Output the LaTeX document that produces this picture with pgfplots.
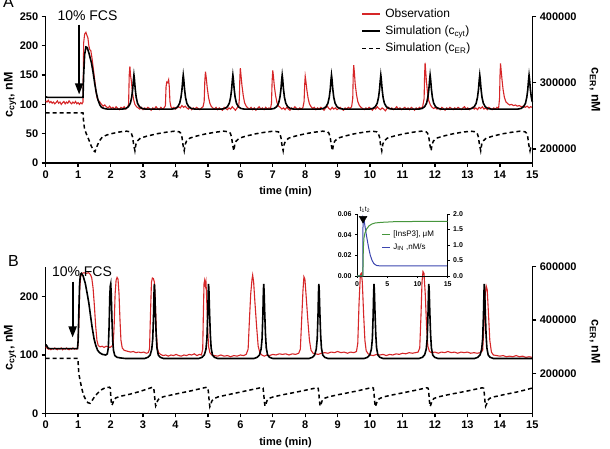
\documentclass[border=0pt]{standalone}
\usepackage{pgfplots}
\pgfplotsset{compat=1.18}
\usepackage{fontspec}
\setmainfont{Liberation Sans}
\usetikzlibrary{arrows.meta}

\definecolor{obsred}{RGB}{214,38,40}
\definecolor{ipgreen}{RGB}{70,150,60}
\definecolor{jblue}{RGB}{60,70,175}

\pgfplotsset{
  panel/.style={
    scale only axis, width=486.6pt, xmin=0, xmax=15,
    anchor=south west, scaled y ticks=false, scaled x ticks=false,
    axis line style={line width=1.5pt},
    every tick/.style={line width=1.3pt, black},
    tick align=outside, major tick length=4pt,
    tick label style={font=\fontsize{11}{11}\selectfont\bfseries},
    /pgf/number format/assume math mode=true,
    xlabel style={font=\fontsize{11}{11}\selectfont\bfseries},
    ylabel style={font=\fontsize{12.5}{12.5}\selectfont\bfseries},
    clip=false,
  },
  leftpanel/.style={panel,
    axis x line*=bottom, axis y line*=left,
    xtick={0,1,...,15},
    xlabel={time (min)},
    xlabel style={at={(axis description cs:0.493,-0.198)}, anchor=center},
    ylabel={c\textsubscript{cyt}, nM},
  },
  rightpanel/.style={panel,
    axis x line=none, axis y line*=right,
    ylabel={c\textsubscript{ER}, nM},
  },
  inset/.style={
    scale only axis, width=90.7pt, height=62pt, xmin=0, xmax=15,
    anchor=south west, scaled y ticks=false, scaled x ticks=false,
    axis line style={line width=0.9pt},
    every tick/.style={line width=0.8pt, black},
    tick align=outside, major tick length=2pt,
    tick label style={font=\fontsize{7}{7}\selectfont\bfseries},
    /pgf/number format/assume math mode=true,
    clip=false,
  },
  obs/.style={obsred, line width=1.1pt},
  sim/.style={black, line width=1.6pt},
  simer/.style={black, line width=1.5pt, dash pattern=on 4pt off 3pt},
}

\begin{document}
\begin{tikzpicture}
\useasboundingbox (0pt,0pt) rectangle (610pt,449pt);

% ---------------- Panel A ----------------
\begin{axis}[leftpanel, at={(45.7pt,286pt)}, height=146.5pt,
  ymin=0, ymax=250, ytick={0,50,...,250},
  ylabel style={at={(axis description cs:-0.073,0.464)}, anchor=center}]
\addplot[obs] coordinates {
(0,106)(0.04,104)(0.08,107)(0.12,103)(0.16,105)(0.2,102)(0.24,104)(0.28,101)(0.32,103)(0.36,106)(0.4,102)(0.44,104)(0.48,100)(0.52,103)(0.56,105)(0.6,101)(0.64,104)(0.68,102)(0.72,106)(0.76,103)(0.8,101)(0.84,104)(0.88,102)(0.92,105)(0.96,101)(1.0,103)(1.04,100)(1.08,103)(1.12,101)(1.15,104)
(1.17,205)(1.2,220)(1.24,223)(1.27,218)(1.3,214)(1.33,200)(1.36,193)(1.39,192)(1.43,178)(1.47,160)(1.51,142)(1.55,122)(1.58,112)(1.62,107)(1.67,104)(1.72,100)(1.77,97)(1.82,99)(1.87,96)(1.92,94)(1.97,97)(2.02,93)(2.07,95)(2.12,92)(2.17,96)(2.22,93)(2.27,91)(2.32,95)(2.37,93)(2.42,96)(2.47,92)(2.52,95)
(2.555,100)(2.575,150)(2.595,165)(2.615,150)(2.64,140)(2.67,122)(2.71,108)(2.75,100)(2.8,96)(2.85,94)(2.9,92)(2.95,95)(3.0,91)(3.05,94)(3.1,92)(3.15,95)(3.2,93)(3.25,90)(3.3,94)(3.35,92)(3.4,96)(3.45,93)(3.5,91)(3.55,95)(3.6,92)(3.65,94)
(3.69,98)(3.71,130)(3.73,138)(3.76,137)(3.79,142)(3.81,130)(3.83,105)(3.86,96)(3.9,93)(3.95,95)(4.0,92)(4.05,94)(4.1,96)(4.15,94)(4.2,98)(4.25,95)(4.3,97)(4.35,94)(4.4,92)(4.45,95)(4.5,91)(4.55,94)(4.6,92)(4.65,95)(4.7,93)(4.75,91)(4.8,94)(4.85,96)
(4.885,105)(4.905,140)(4.925,156)(4.95,145)(4.98,128)(5.02,112)(5.06,102)(5.1,97)(5.15,94)(5.2,92)(5.25,95)(5.3,91)(5.35,94)(5.4,92)(5.45,90)(5.5,95)(5.55,93)(5.6,91)(5.65,94)(5.7,92)(5.75,96)(5.8,93)(5.85,90)(5.9,94)(5.95,97)
(5.97,110)(5.985,145)(6.0,162)(6.02,150)(6.05,132)(6.09,115)(6.13,103)(6.18,97)(6.23,94)(6.28,92)(6.33,95)(6.38,91)(6.43,94)(6.48,90)(6.53,93)(6.58,96)(6.63,92)(6.68,94)(6.73,91)(6.78,95)(6.83,92)(6.88,94)(6.93,93)
(6.96,102)(6.98,140)(7.0,158)(7.02,148)(7.05,130)(7.09,114)(7.13,103)(7.18,97)(7.23,95)(7.28,92)(7.33,94)(7.38,91)(7.43,95)(7.48,92)(7.53,90)(7.58,94)(7.63,92)(7.68,96)(7.73,93)(7.78,91)(7.83,94)(7.88,92)(7.93,95)
(7.965,105)(7.985,135)(8.0,148)(8.02,140)(8.05,125)(8.09,110)(8.13,101)(8.18,96)(8.23,93)(8.28,95)(8.33,91)(8.38,94)(8.43,92)(8.48,95)(8.53,93)(8.58,90)(8.63,94)(8.68,97)(8.73,93)(8.78,91)(8.83,95)(8.88,92)(8.93,94)(8.98,91)(9.03,93)(9.08,95)(9.13,92)(9.18,90)(9.23,94)(9.28,92)(9.33,95)(9.38,93)(9.43,96)
(9.465,110)(9.48,150)(9.495,167)(9.515,155)(9.54,135)(9.58,117)(9.62,105)(9.67,98)(9.72,95)(9.77,93)(9.82,91)(9.87,94)(9.92,92)(9.97,95)(10.02,93)(10.07,90)(10.12,94)(10.17,92)(10.22,96)(10.27,93)(10.32,91)(10.37,94)(10.42,92)(10.47,89)(10.52,93)(10.57,95)(10.62,92)(10.67,94)(10.72,91)(10.77,93)(10.82,96)(10.87,92)(10.92,94)(10.97,91)(11.02,93)(11.07,95)(11.12,92)(11.17,94)(11.22,91)(11.27,95)(11.32,93)(11.37,90)(11.42,94)(11.47,92)(11.52,95)(11.57,93)(11.62,96)
(11.665,110)(11.68,150)(11.695,171)(11.71,160)(11.735,140)(11.77,120)(11.81,106)(11.86,99)(11.91,95)(11.96,93)(12.01,95)(12.06,92)(12.11,94)(12.16,91)(12.21,95)(12.26,93)(12.31,90)(12.36,94)(12.41,92)(12.46,95)(12.51,93)(12.56,91)(12.61,94)(12.66,92)(12.71,95)(12.76,93)(12.81,91)(12.86,94)(12.91,96)(12.96,92)(13.01,94)(13.06,91)(13.11,93)(13.16,95)(13.21,92)(13.26,94)(13.31,91)(13.36,95)(13.41,93)(13.46,96)(13.51,92)(13.56,94)(13.61,91)(13.66,95)(13.71,93)(13.76,91)(13.81,94)(13.86,92)(13.91,95)(13.96,93)
(13.99,110)(14.005,150)(14.02,170)(14.04,158)(14.07,140)(14.1,125)(14.14,112)(14.19,104)(14.25,101)(14.3,99)(14.36,100)(14.42,98)(14.48,99)(14.54,97)(14.6,98)(14.66,96)(14.72,97)(14.78,95)(14.84,97)(14.9,94)(14.95,96)(15.0,95)
};
\addplot[sim] coordinates {
(0,113)(0.05,112)(1.15,112)(1.17,150)(1.2,185)(1.24,198)(1.28,197)(1.33,188)(1.41,171)(1.46,155)(1.51,136)(1.56,120)(1.61,108)(1.67,99)(1.72,95)(1.8,93)(1.9,92)(2.37,92)
(2.47,93)(2.55,96)(2.61,102)(2.65,112)(2.68,125)(2.705,142)(2.72,150)(2.735,143)(2.76,126)(2.79,112)(2.83,102)(2.89,96)(2.97,93)(3.07,92)(3.89,92)
(3.99,93)(4.07,96)(4.13,102)(4.17,112)(4.20,125)(4.225,142)(4.24,150)(4.255,143)(4.28,126)(4.31,112)(4.35,102)(4.41,96)(4.49,93)(4.59,92)(5.42,92)
(5.52,93)(5.60,96)(5.66,102)(5.70,112)(5.73,125)(5.755,142)(5.77,150)(5.785,143)(5.81,126)(5.84,112)(5.88,102)(5.94,96)(6.02,93)(6.12,92)(6.94,92)
(7.04,93)(7.12,96)(7.18,102)(7.22,112)(7.25,125)(7.275,142)(7.29,150)(7.305,143)(7.33,126)(7.36,112)(7.40,102)(7.46,96)(7.54,93)(7.64,92)(8.46,92)
(8.56,93)(8.64,96)(8.70,102)(8.74,112)(8.77,125)(8.795,142)(8.81,150)(8.825,143)(8.85,126)(8.88,112)(8.92,102)(8.98,96)(9.06,93)(9.16,92)(9.98,92)
(10.08,93)(10.16,96)(10.22,102)(10.26,112)(10.29,125)(10.315,142)(10.33,150)(10.345,143)(10.37,126)(10.40,112)(10.44,102)(10.50,96)(10.58,93)(10.68,92)(11.50,92)
(11.60,93)(11.68,96)(11.74,102)(11.78,112)(11.81,125)(11.835,142)(11.85,150)(11.865,143)(11.89,126)(11.92,112)(11.96,102)(12.02,96)(12.10,93)(12.20,92)(13.03,92)
(13.13,93)(13.21,96)(13.27,102)(13.31,112)(13.34,125)(13.365,142)(13.38,150)(13.395,143)(13.42,126)(13.45,112)(13.49,102)(13.55,96)(13.63,93)(13.73,92)(14.55,92)
(14.65,93)(14.73,96)(14.79,102)(14.83,112)(14.86,125)(14.885,142)(14.90,150)(14.915,143)(14.94,126)(14.97,112)(15.0,104)
};
% stimulus arrow
\draw[line width=1.8pt, -{Triangle[width=8pt,length=11pt]}] (axis cs:1.03,236) -- (axis cs:1.03,117);
\end{axis}

\begin{axis}[rightpanel, at={(45.7pt,286pt)}, height=146.5pt,
  ymin=179000, ymax=400000, ytick={200000,300000,400000},
  yticklabels={200000,300000,400000},
  ylabel style={at={(axis description cs:1.129,0.498)}, anchor=center, rotate=180},
  legend style={draw=none, fill=none, at={(axis description cs:0.648,1.064)},
    anchor=north west, font=\fontsize{12}{12}\selectfont, row sep=4pt, column sep=3pt,
    inner sep=0pt, nodes={inner sep=1.5pt}},
  legend cell align=left,
  legend image code/.code={\draw[#1] (0pt,0pt) -- (18pt,0pt);}]
\addlegendimage{obsred, line width=1.5pt}
\addlegendentry{Observation}
\addlegendimage{sim}
\addlegendentry{Simulation (c\textsubscript{cyt})}
\addplot[simer] coordinates {
(0,254500)(1.15,254500)(1.17,240000)(1.2,230000)(1.26,222000)(1.33,214000)(1.4,205000)(1.47,198000)(1.52,196000)(1.57,203000)(1.65,212000)(1.75,218500)(1.9,221500)(2.05,223500)(2.3,226000)(2.5,227000)(2.6,226000)
(2.64,224000)(2.68,218000)(2.71,207000)(2.75,197500)(2.78,207000)(2.82,212000)(2.92,216500)(3.12,219500)(3.42,223000)(3.72,225500)(3.97,227000)(4.12,226000)
(4.16,224000)(4.20,218000)(4.23,207000)(4.27,197500)(4.30,207000)(4.34,212000)(4.44,216500)(4.64,219500)(4.94,223000)(5.24,225500)(5.49,227000)(5.65,226000)
(5.69,224000)(5.73,218000)(5.76,207000)(5.80,197500)(5.83,207000)(5.87,212000)(5.97,216500)(6.17,219500)(6.47,223000)(6.77,225500)(7.02,227000)(7.17,226000)
(7.21,224000)(7.25,218000)(7.28,207000)(7.32,197500)(7.35,207000)(7.39,212000)(7.49,216500)(7.69,219500)(7.99,223000)(8.29,225500)(8.54,227000)(8.69,226000)
(8.73,224000)(8.77,218000)(8.80,207000)(8.84,197500)(8.87,207000)(8.91,212000)(9.01,216500)(9.21,219500)(9.51,223000)(9.81,225500)(10.06,227000)(10.21,226000)
(10.25,224000)(10.29,218000)(10.32,207000)(10.36,197500)(10.39,207000)(10.43,212000)(10.53,216500)(10.73,219500)(11.03,223000)(11.33,225500)(11.58,227000)(11.73,226000)
(11.77,224000)(11.81,218000)(11.84,207000)(11.88,197500)(11.91,207000)(11.95,212000)(12.05,216500)(12.25,219500)(12.55,223000)(12.85,225500)(13.10,227000)(13.26,226000)
(13.30,224000)(13.34,218000)(13.37,207000)(13.41,197500)(13.44,207000)(13.48,212000)(13.58,216500)(13.78,219500)(14.08,223000)(14.38,225500)(14.63,227000)(14.78,226000)
(14.82,224000)(14.86,218000)(14.89,207000)(14.93,197500)(14.96,204000)(15.0,206000)
};
\addlegendentry{Simulation (c\textsubscript{ER})}
\end{axis}

% ---------------- Panel B ----------------
\begin{axis}[leftpanel, at={(45.7pt,35.7pt)}, height=146.6pt,
  ymin=0, ymax=251.4, ytick={0,100,200},
  ylabel style={at={(axis description cs:-0.073,0.449)}, anchor=center}]
\addplot[obs] coordinates {
(0,114)(0.04,112)(0.08,110)(0.12,111)(0.16,109)(0.2,111)(0.24,110)(0.28,112)(0.32,110)(0.36,109)(0.4,111)(0.44,110)(0.48,112)(0.52,109)(0.56,111)(0.6,110)(0.64,112)(0.68,110)(0.72,109)(0.76,111)(0.8,110)(0.84,112)(0.88,110)(0.92,111)(0.96,110)(0.99,114)
(1.02,150)(1.05,215)(1.08,235)(1.12,240)(1.18,241)(1.25,240)(1.32,241)(1.38,238)(1.42,232)(1.46,215)(1.5,185)(1.54,150)(1.58,125)(1.62,116)(1.68,114)(1.74,115)(1.8,113)(1.86,115)(1.92,114)(1.98,113)(2.04,115)
(2.08,118)(2.11,150)(2.14,205)(2.17,228)(2.2,233)(2.23,230)(2.26,205)(2.29,160)(2.32,125)(2.36,112)(2.42,108)(2.48,107)(2.55,106)(2.62,105)(2.7,106)(2.78,104)(2.86,105)(2.94,104)(3.02,105)(3.1,103)(3.16,104)
(3.2,110)(3.23,170)(3.26,225)(3.29,232)(3.32,231)(3.35,225)(3.38,190)(3.41,140)(3.44,112)(3.48,104)(3.54,101)(3.62,99)(3.7,100)(3.78,98)(3.86,100)(3.94,99)(4.02,101)(4.1,99)(4.18,98)(4.26,100)(4.34,99)(4.42,101)(4.5,100)(4.58,102)(4.66,99)(4.74,101)(4.8,100)
(4.84,110)(4.86,170)(4.88,222)(4.9,228)(4.92,220)(4.94,226)(4.96,200)(4.99,150)(5.02,115)(5.06,104)(5.12,100)(5.2,99)(5.3,98)(5.4,100)(5.5,98)(5.6,99)(5.7,97)(5.8,99)(5.9,98)(6.0,100)(6.1,99)(6.18,101)
(6.24,110)(6.28,160)(6.32,205)(6.36,230)(6.38,237)(6.41,225)(6.45,190)(6.5,150)(6.55,115)(6.6,104)(6.66,100)(6.74,98)(6.82,100)(6.9,99)(7.0,101)(7.1,100)(7.2,102)(7.3,101)(7.4,102)(7.5,100)(7.6,102)(7.7,101)(7.8,103)
(7.85,110)(7.89,160)(7.93,210)(7.96,234)(7.99,230)(8.03,200)(8.08,160)(8.13,125)(8.18,108)(8.24,103)(8.32,102)(8.4,101)(8.5,103)(8.6,104)(8.7,103)(8.8,105)(8.9,104)(9.0,106)(9.1,104)(9.2,105)(9.3,103)(9.4,105)(9.5,104)(9.58,106)
(9.62,120)(9.66,190)(9.7,238)(9.73,240)(9.76,225)(9.8,170)(9.84,125)(9.88,107)(9.94,102)(10.0,100)(10.1,99)(10.2,101)(10.3,100)(10.4,101)(10.5,99)(10.6,101)(10.7,100)(10.8,102)(10.9,101)(11.0,103)(11.1,102)(11.2,104)(11.3,103)(11.4,104)(11.48,105)
(11.53,112)(11.57,170)(11.6,225)(11.63,243)(11.66,240)(11.7,205)(11.74,150)(11.78,115)(11.83,106)(11.9,104)(12.0,105)(12.1,103)(12.2,105)(12.3,104)(12.4,106)(12.5,104)(12.6,105)(12.7,103)(12.8,105)(12.9,104)(13.0,105)(13.1,103)(13.2,104)(13.3,103)(13.4,104)
(13.47,108)(13.51,150)(13.55,205)(13.58,218)(13.61,212)(13.65,170)(13.69,125)(13.74,105)(13.8,100)(13.9,99)(14.0,98)(14.1,99)(14.2,97)(14.3,98)(14.4,97)(14.5,99)(14.6,97)(14.7,98)(14.8,96)(14.9,97)(15.0,96)
};
\addplot[sim] coordinates {
(0,118)(0.03,116)(0.07,112)(0.12,111)(0.98,111)(1.0,125)(1.02,170)(1.045,222)(1.07,238)(1.1,240)(1.15,236)(1.22,223)(1.28,205)(1.33,189)(1.38,168)(1.43,148)(1.49,128)(1.54,117)(1.6,108)(1.66,104)(1.75,101)(1.85,100)(1.9,102)
(1.93,112)(1.955,150)(1.975,200)(1.99,218)(2.005,222)(2.02,205)(2.04,165)(2.065,125)(2.09,108)(2.13,99)(2.2,96)(2.3,95)(2.45,94)
(3.05,94)(3.15,96)(3.22,100)(3.27,110)(3.30,128)(3.325,170)(3.34,208)(3.35,222)(3.362,210)(3.38,175)(3.405,135)(3.43,112)(3.47,100)(3.53,96)(3.63,94)
(4.72,94)(4.82,96)(4.89,100)(4.94,110)(4.97,128)(4.995,170)(5.01,208)(5.02,222)(5.032,210)(5.05,175)(5.075,135)(5.10,112)(5.14,100)(5.20,96)(5.30,94)
(6.42,94)(6.52,96)(6.59,100)(6.64,110)(6.67,128)(6.695,170)(6.71,208)(6.72,222)(6.732,210)(6.75,175)(6.775,135)(6.80,112)(6.84,100)(6.90,96)(7.00,94)
(8.12,94)(8.22,96)(8.29,100)(8.34,110)(8.37,128)(8.395,170)(8.41,208)(8.42,222)(8.432,210)(8.45,175)(8.475,135)(8.50,112)(8.54,100)(8.60,96)(8.70,94)
(9.82,94)(9.92,96)(9.99,100)(10.04,110)(10.07,128)(10.095,170)(10.11,208)(10.12,222)(10.132,210)(10.15,175)(10.175,135)(10.20,112)(10.24,100)(10.30,96)(10.40,94)
(11.51,94)(11.61,96)(11.68,100)(11.73,110)(11.76,128)(11.785,170)(11.80,208)(11.81,222)(11.822,210)(11.84,175)(11.865,135)(11.89,112)(11.93,100)(11.99,96)(12.09,94)
(13.22,94)(13.32,96)(13.39,100)(13.44,110)(13.47,128)(13.495,170)(13.51,208)(13.52,222)(13.532,210)(13.55,175)(13.575,135)(13.60,112)(13.64,100)(13.70,96)(13.80,94)
(15,94)
};
\draw[line width=1.8pt, -{Triangle[width=8pt,length=11pt]}] (axis cs:0.83,226) -- (axis cs:0.83,130);
\end{axis}

\begin{axis}[rightpanel, at={(45.7pt,35.7pt)}, height=146.6pt,
  ymin=50250, ymax=600000, ytick={200000,400000,600000},
  yticklabels={200000,400000,600000},
  ylabel style={at={(axis description cs:1.129,0.488)}, anchor=center, rotate=180}]
\addplot[simer] coordinates {
(0,256500)(0.99,256500)(1.0,240000)(1.02,200000)(1.05,180000)(1.1,150000)(1.16,120000)(1.24,100000)(1.3,90000)(1.37,87500)(1.44,100000)(1.52,115000)(1.62,128000)(1.74,140000)(1.86,147500)(1.97,148000)
(1.99,145000)(2.0,125000)(2.02,95000)(2.04,80000)(2.07,88000)(2.1,100000)(2.16,108000)(2.3,114000)(2.6,122000)(2.9,132000)(3.29,148000)
(3.33,145000)(3.35,125000)(3.37,95000)(3.39,78000)(3.42,86000)(3.45,98000)(3.51,107000)(3.65,113000)(3.95,121000)(4.5,135000)(4.96,148000)
(5.0,145000)(5.02,125000)(5.04,95000)(5.06,75000)(5.09,84000)(5.12,96000)(5.18,105000)(5.32,112000)(5.62,120000)(6.2,135000)(6.66,147000)
(6.70,145000)(6.72,125000)(6.74,95000)(6.76,77000)(6.79,85000)(6.82,97000)(6.88,106000)(7.02,112000)(7.32,120000)(7.9,134000)(8.36,146000)
(8.40,144000)(8.42,125000)(8.44,95000)(8.46,77000)(8.49,85000)(8.52,97000)(8.58,106000)(8.72,112000)(9.02,120000)(9.6,134000)(10.06,147000)
(10.10,145000)(10.12,125000)(10.14,95000)(10.16,75000)(10.19,84000)(10.22,96000)(10.28,105000)(10.42,112000)(10.72,120000)(11.3,134000)(11.75,146000)
(11.79,144000)(11.81,125000)(11.83,95000)(11.85,76000)(11.88,85000)(11.91,97000)(11.97,106000)(12.11,112000)(12.41,120000)(13.0,134000)(13.46,146000)
(13.50,144000)(13.52,125000)(13.54,95000)(13.56,77000)(13.59,85000)(13.62,97000)(13.68,106000)(13.82,112000)(14.12,120000)(14.6,132000)(15.0,145000)
};
\end{axis}

% ---------------- Inset: stimulus inputs ----------------
\begin{axis}[inset, at={(357pt,173pt)},
  axis x line*=bottom, axis y line*=left,
  xtick={0,5,10,15},
  ymin=0, ymax=0.06, ytick={0,0.02,0.04,0.06},
  yticklabels={0.00,0.02,0.04,0.06}]
\addplot[jblue, line width=1pt] coordinates {
(0,0)(0.95,0)(1.0,0.057)(1.15,0.055)(1.35,0.047)(1.6,0.038)(1.9,0.028)(2.2,0.020)(2.5,0.015)(2.75,0.0123)(3.0,0.011)(3.3,0.0101)(4,0.0097)(15,0.0097)
};
\addplot[only marks, mark=triangle*, mark size=4.5pt, mark options={rotate=180, fill=black, draw=black}] coordinates {(1.0,0.0555)};
\node[anchor=south, font=\fontsize{7}{7}\selectfont, inner sep=0.5pt] at (axis cs:1.3,0.0603) {t\textsubscript{1}t\textsubscript{2}};
\end{axis}

\begin{axis}[inset, at={(357pt,173pt)},
  axis x line=none, axis y line*=right,
  ymin=0, ymax=2, ytick={0,0.5,...,2},
  yticklabels={0.0,0.5,1.0,1.5,2.0},
  legend style={draw=none, fill=none, at={(axis description cs:0.272,0.75)},
    anchor=north west, font=\fontsize{8}{8}\selectfont, row sep=3.5pt, column sep=1.5pt,
    inner sep=0pt, nodes={inner sep=1pt}},
  legend cell align=left,
  legend image code/.code={\draw[#1] (0pt,0pt) -- (8pt,0pt);}]
\addplot[ipgreen, line width=1pt] coordinates {
(0,0)(0.97,0)(1.0,0.4)(1.05,0.9)(1.15,1.22)(1.3,1.38)(1.6,1.52)(2.0,1.62)(2.5,1.68)(3.0,1.71)(4,1.73)(6,1.75)(10,1.76)(15,1.76)
};
\addlegendentry{[InsP3], μM}
\addlegendimage{jblue, line width=1pt}
\addlegendentry{J\textsubscript{IN} ,nM/s}
\end{axis}

% panel letters and stimulus labels
\node[anchor=base west, font=\fontsize{16}{16}\selectfont, inner sep=0] at (3pt,441pt) {A};
\node[anchor=base west, font=\fontsize{16}{16}\selectfont, inner sep=0] at (8pt,182.3pt) {B};
\node[anchor=base, font=\fontsize{14}{14}\selectfont, inner sep=0] at (87.5pt,428.3pt) {10\% FCS};
\node[anchor=base, font=\fontsize{14}{14}\selectfont, inner sep=0] at (82pt,172.3pt) {10\% FCS};
\end{tikzpicture}
\end{document}
